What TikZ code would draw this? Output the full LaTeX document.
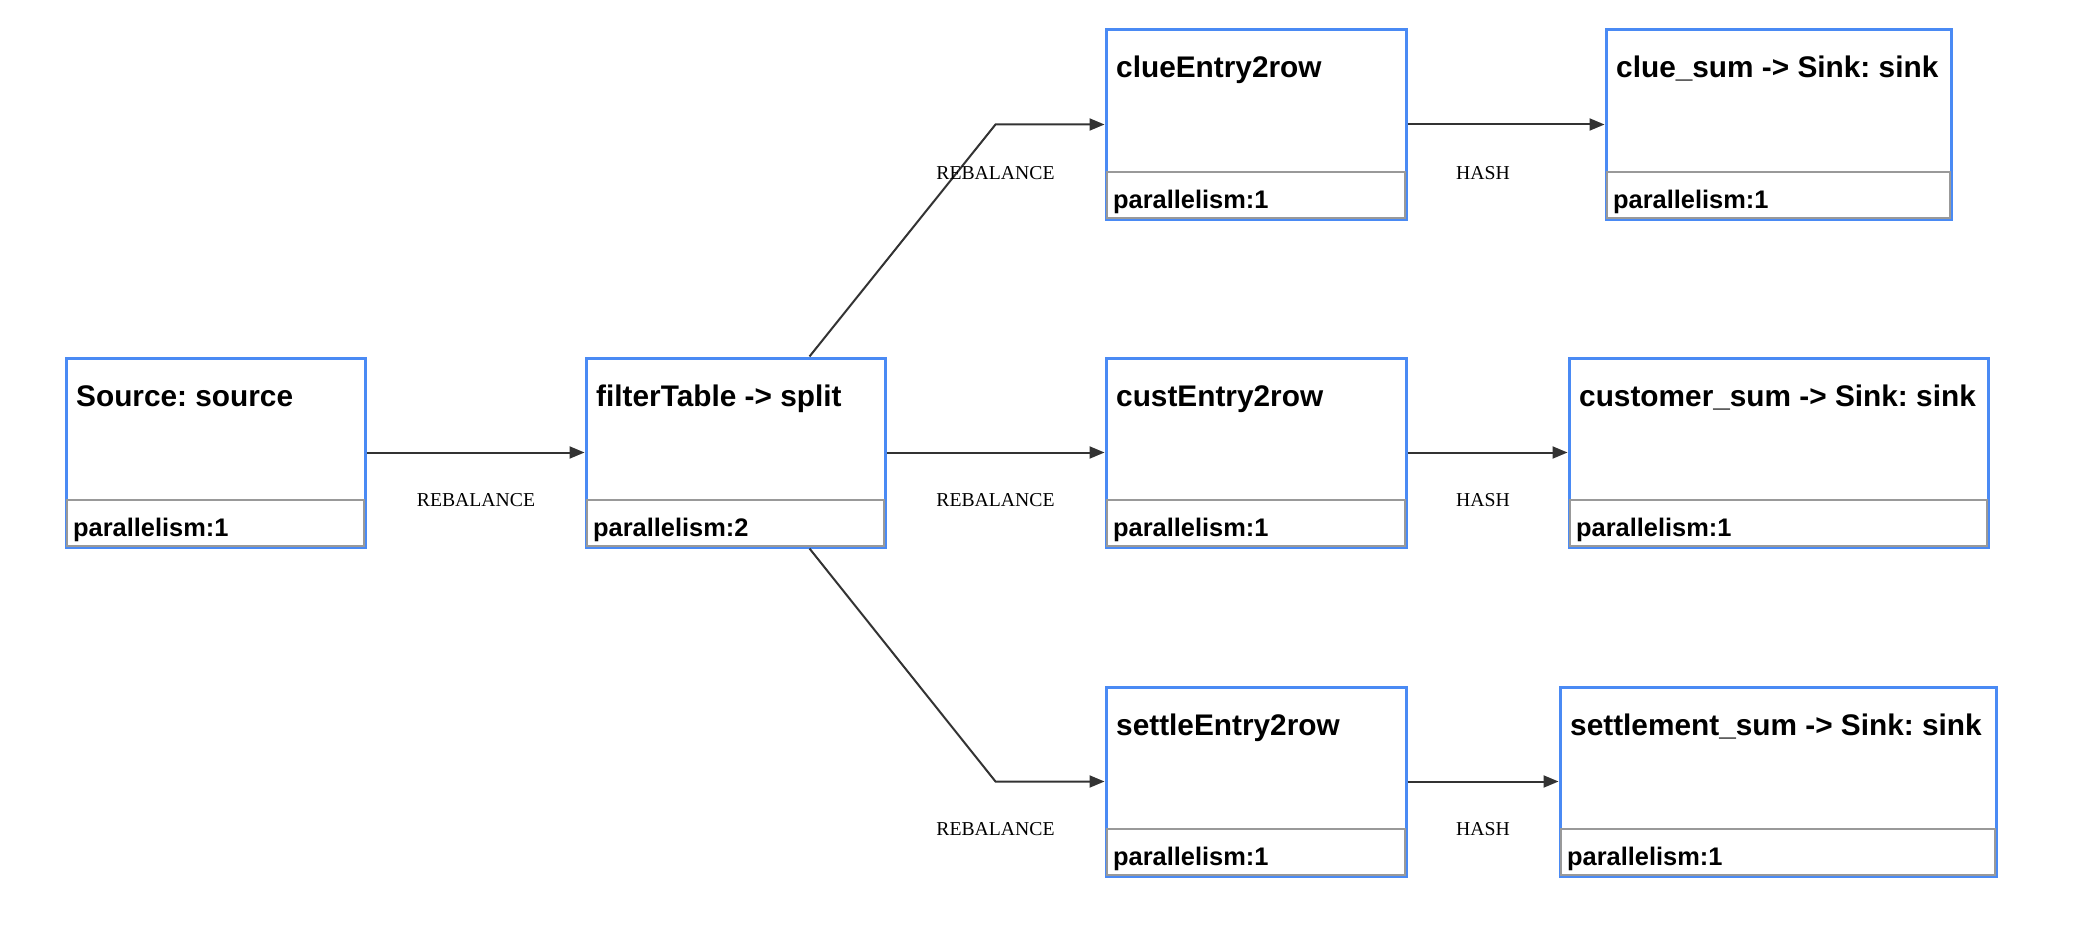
\documentclass[tikz,border=0pt]{standalone}
\usepackage{fontspec}
\newfontfamily\sansfont{Liberation Sans}
\newfontfamily\seriffont{Liberation Serif}
\usetikzlibrary{arrows.meta,calc}
\definecolor{boxblue}{HTML}{4A8AF4}
\definecolor{footgrey}{HTML}{999999}
\definecolor{edgegrey}{HTML}{333333}
\frenchspacing
\tikzset{
 opbox/.style={draw=boxblue, line width=3pt, fill=white, minimum height=189pt, inner sep=0pt, rectangle},
 titletext/.style={font=\sansfont\bfseries\fontsize{29.8}{36}\selectfont, inner sep=0pt, anchor=base west},
 partext/.style={font=\sansfont\bfseries\fontsize{25.4}{30}\selectfont, inner sep=0pt, anchor=base west},
 footer/.style={draw=footgrey, line width=2.2pt},
 edge/.style={draw=edgegrey, line width=2pt, -{Triangle[length=15pt,width=12pt]}},
 elabel/.style={font=\seriffont\fontsize{19.7}{24}\selectfont, inner sep=0pt, anchor=base},
}
\newcommand\opnode[6]{%
 \node[opbox, minimum width={#4-#2}] (#1) at ({(#2+#4)/2},{#3+94.5}) {};
 \draw[footer] ({#2+1},{#3+142}) rectangle ({#4-1},{#3+188});
 \node[titletext] (#1-title) at ({#2+10},{#3+48}) {#5};
 \node[partext] (#1-par) at ({#2+7},{#3+178}) {#6};
}
\begin{document}
\begin{tikzpicture}[x=1pt,y=-1pt]
\fill[white] (0,0) rectangle (2084,928);
\useasboundingbox (0,0) rectangle (2084,928);
\opnode{src}{66}{358}{365}{Source: source}{parallelism:1}
\opnode{filt}{586}{358}{885}{filterTable -> split}{parallelism:2}
\opnode{clue}{1106}{30}{1406}{clueEntry2row}{parallelism:1}
\opnode{cust}{1106}{358}{1406}{custEntry2row}{parallelism:1}
\opnode{settle}{1106}{687}{1406}{settleEntry2row}{parallelism:1}
\opnode{cluesum}{1606}{30}{1951}{clue\_sum -> Sink: sink}{parallelism:1}
\opnode{custsum}{1569}{358}{1988}{customer\_sum -> Sink: sink}{parallelism:1}
\opnode{settlesum}{1560}{687}{1996}{settlement\_sum -> Sink: sink}{parallelism:1}
\coordinate (bend1) at (995.5,124.5);
\coordinate (bend2) at (995.5,781.5);
\draw[edge] (src.east) -- (filt.west);
\draw[edge] (filt.east) -- (cust.west);
\draw[edge] ([xshift=225pt]filt.north west) -- (bend1) -- (clue.west);
\draw[edge] ([xshift=225pt]filt.south west) -- (bend2) -- (settle.west);
\draw[edge] (clue.east) -- (cluesum.west);
\draw[edge] (cust.east) -- (custsum.west);
\draw[edge] (settle.east) -- (settlesum.west);
\node[elabel] (l1) at (476,506.5) {REBALANCE};
\node[elabel] (l2) at (995.5,179) {REBALANCE};
\node[elabel] (l3) at (995.5,506.5) {REBALANCE};
\node[elabel] (l4) at (995.5,835) {REBALANCE};
\node[elabel] (h1) at (1483,179) {HASH};
\node[elabel] (h2) at (1483,506.5) {HASH};
\node[elabel] (h3) at (1483,835) {HASH};
\end{tikzpicture}
\end{document}
